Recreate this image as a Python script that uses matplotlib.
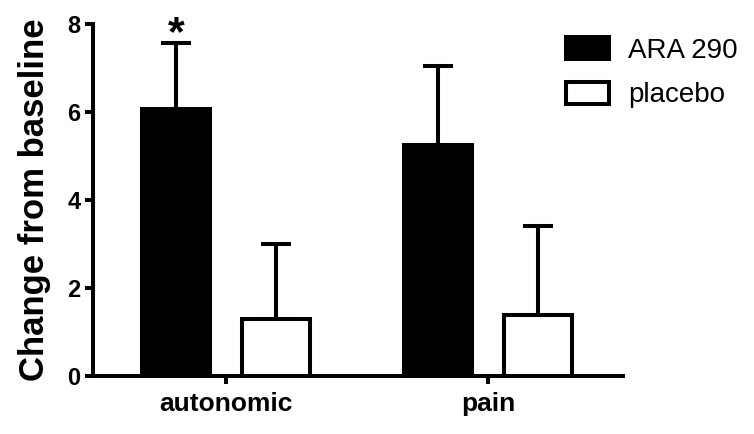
import matplotlib.pyplot as plt
import numpy as np

plt.rcParams['font.family'] = ['Liberation Sans', 'DejaVu Sans']

categories = ['autonomic', 'pain']
groups = ['ARA 290', 'placebo']
ara_mean = [6.08, 5.25]
ara_sem = [1.50, 1.80]
placebo_mean = [1.29, 1.38]
placebo_sem = [1.70, 2.02]

lw = 2.9
fig = plt.figure(figsize=(7.54, 4.34), dpi=100)
ax = fig.add_axes([0.1233, 0.1343, 0.8264 - 0.1233, 0.944 - 0.1343])

x = np.arange(len(categories))
width = 0.26
off = 0.19

ax.bar(x - off, ara_mean, width, color='black', edgecolor='black', linewidth=lw,
       label=groups[0], zorder=2)
ax.bar(x + off, placebo_mean, width, color='white', edgecolor='black', linewidth=lw,
       label=groups[1], zorder=2)

ax.errorbar(x - off, ara_mean, yerr=[np.zeros(2), ara_sem], fmt='none', ecolor='black',
            elinewidth=lw, capsize=11, capthick=lw, zorder=1)
ax.errorbar(x + off, placebo_mean, yerr=[np.zeros(2), placebo_sem], fmt='none', ecolor='black',
            elinewidth=lw, capsize=11, capthick=lw, zorder=1)

# significance marker
ax.text(x[0] - off, 7.52, '*', ha='center', va='baseline', fontsize=31, fontweight='bold',
        clip_on=False)

ax.set_xlim(-0.508, 1.515)
ax.set_ylim(0, 8)
ax.set_yticks([0, 2, 4, 6, 8])
ax.set_xticks(x)
ax.set_xticklabels(categories, fontsize=19, fontweight='bold')
for t in ax.get_yticklabels():
    t.set_fontsize(17)
    t.set_fontweight('bold')
ax.tick_params(axis='both', width=lw, length=6, pad=3)
ax.tick_params(axis='x', pad=6)
ax.set_ylabel('Change from baseline', fontsize=25, fontweight='bold', labelpad=12)

for s in ['top', 'right']:
    ax.spines[s].set_visible(False)
for s in ['left', 'bottom']:
    ax.spines[s].set_linewidth(lw)

ax.legend(loc='upper left', bbox_to_anchor=(0.872, 0.995), frameon=False, fontsize=20,
          handlelength=1.55, handleheight=0.83, labelspacing=0.65, handletextpad=0.68,
          borderaxespad=0)

fig.savefig('out.png', dpi=100)
